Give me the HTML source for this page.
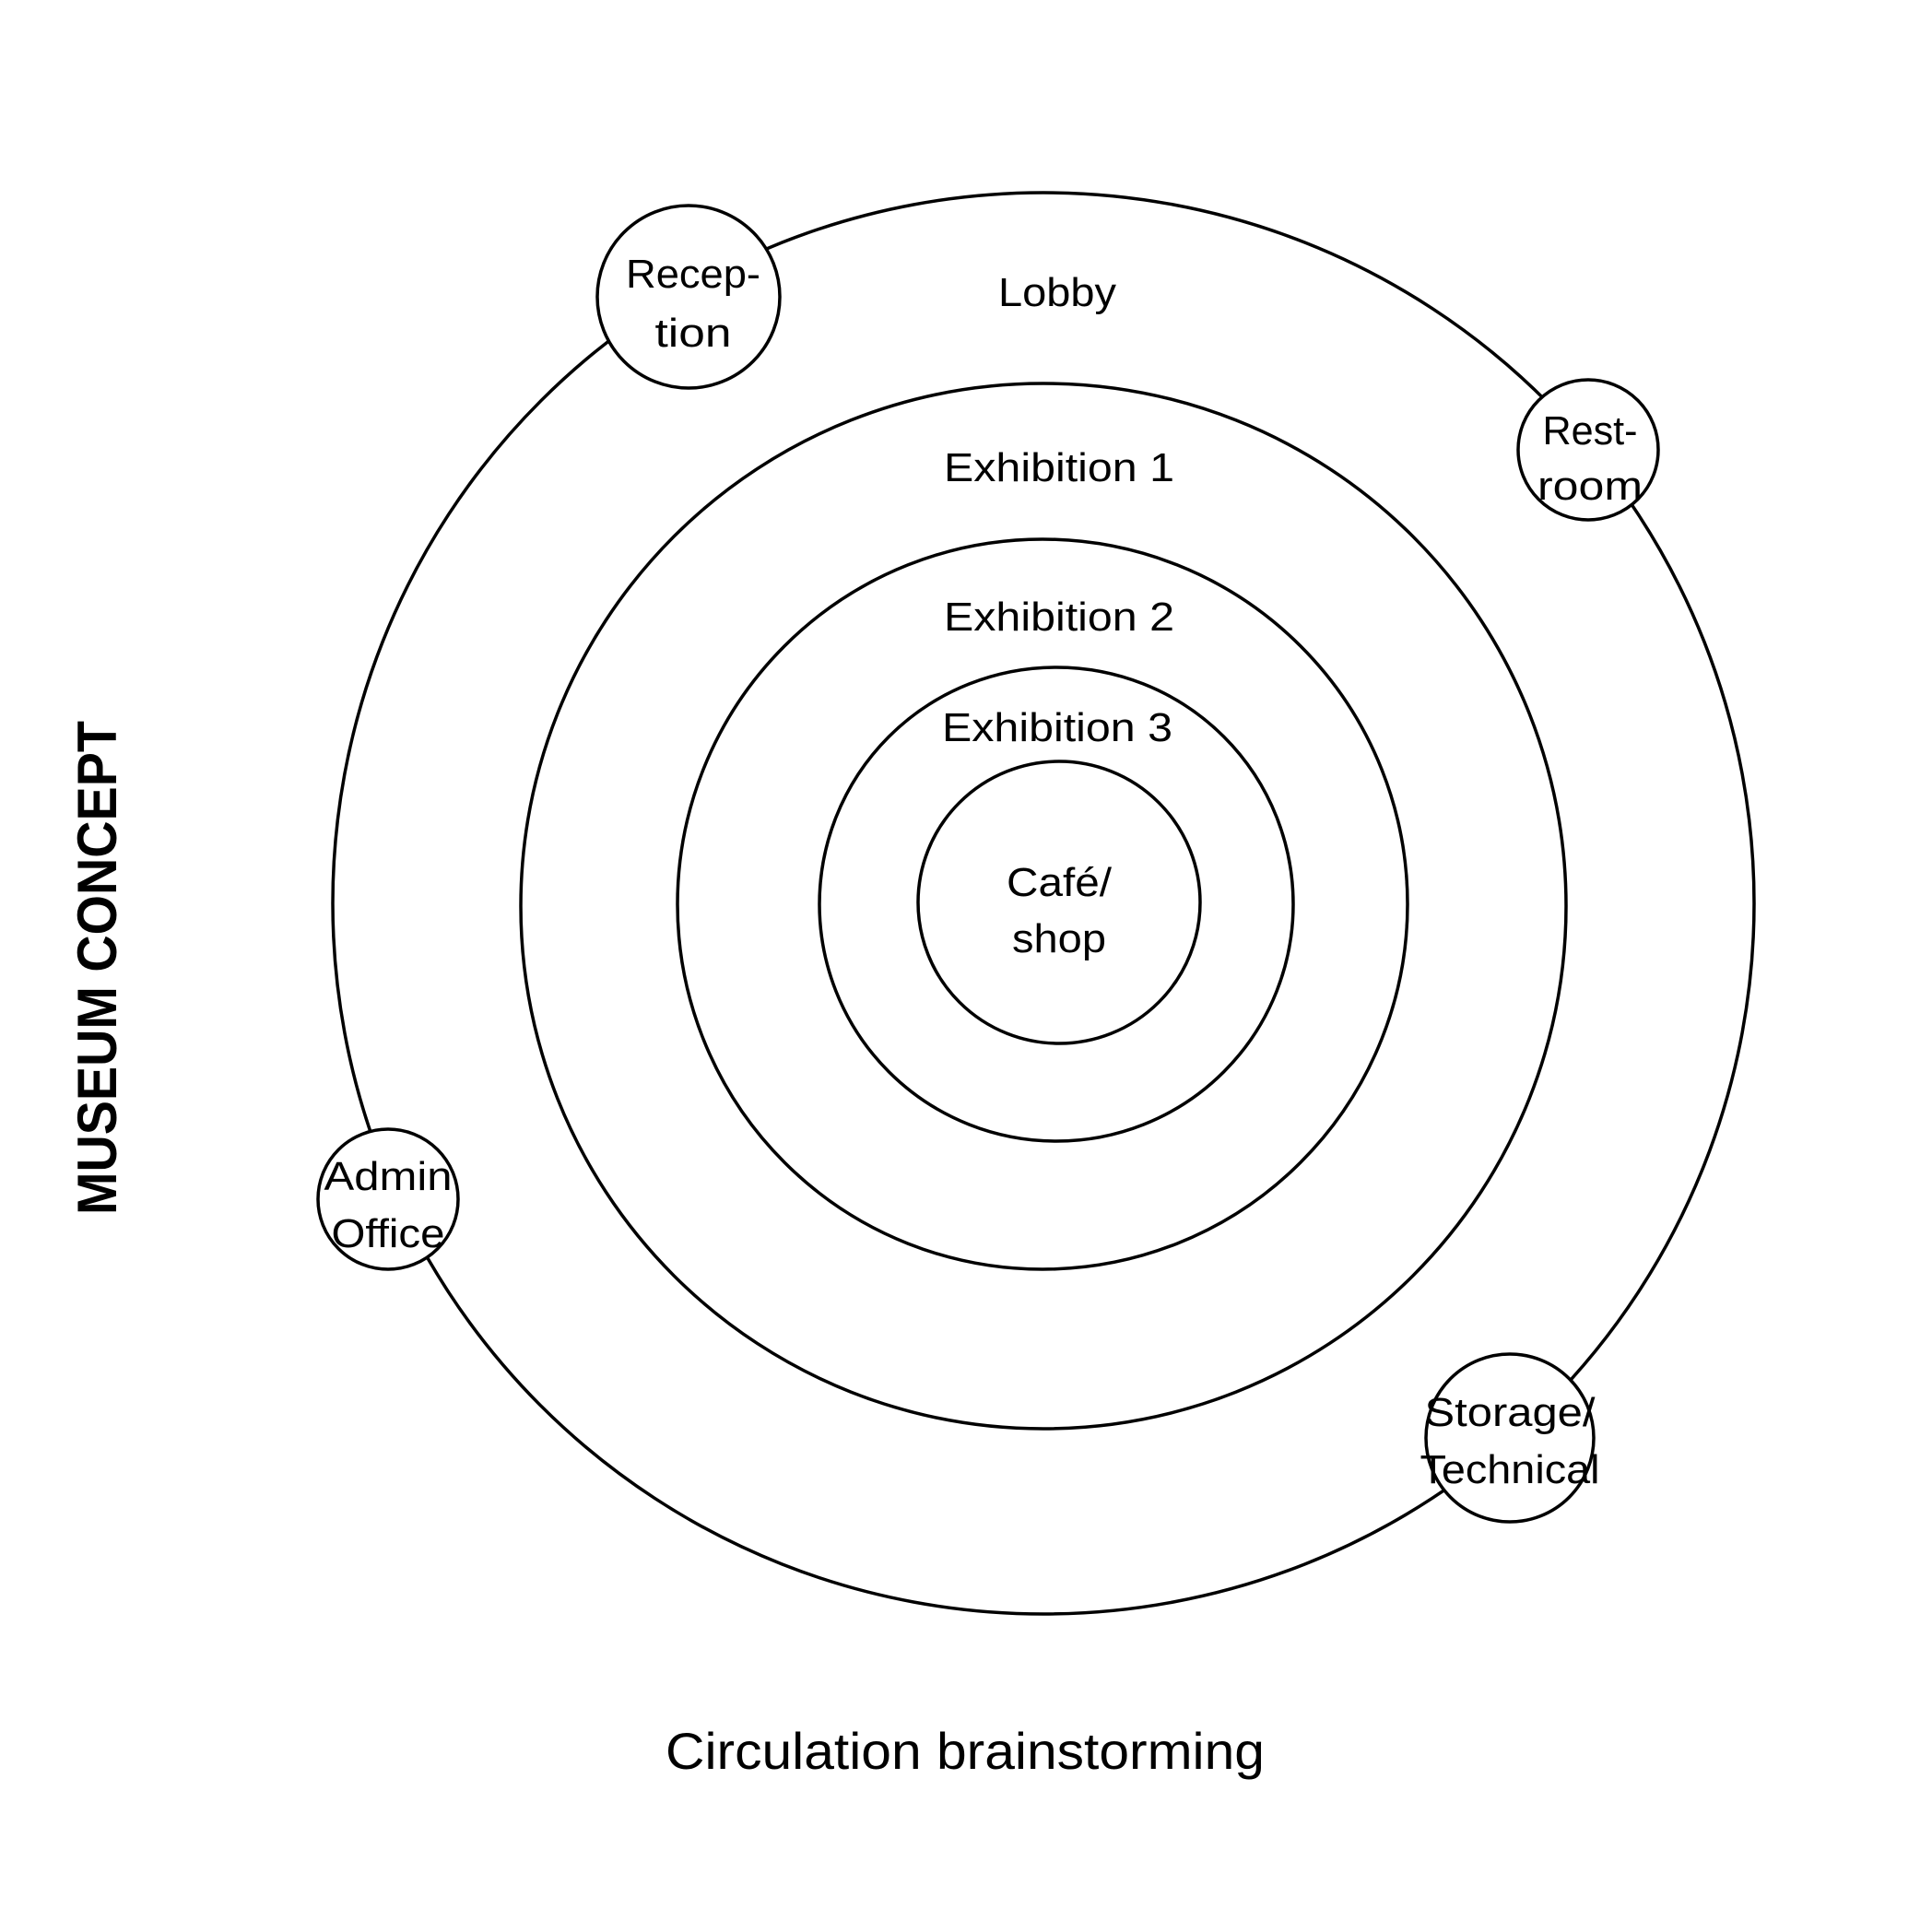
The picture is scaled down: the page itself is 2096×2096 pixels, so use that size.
<!DOCTYPE html>
<html><head><meta charset="utf-8"><style>html,body{margin:0;padding:0;background:#fff}svg{display:block}</style></head>
<body>
<svg width="2096" height="2096" viewBox="0 0 2096 2096" xmlns="http://www.w3.org/2000/svg">
<rect width="2096" height="2096" fill="#fff"/>
<g fill="none" stroke="#000" stroke-width="3.5">
<circle cx="1132" cy="980" r="771"/>
<circle cx="1132" cy="983" r="567"/>
<circle cx="1131" cy="981" r="396"/>
<circle cx="1146" cy="981" r="257"/>
<circle cx="1149" cy="979" r="153"/>
</g>
<g fill="#fff" stroke="#000" stroke-width="3.5">
<circle cx="747" cy="322" r="99"/>
<circle cx="1723" cy="488" r="76"/>
<circle cx="421" cy="1301" r="76"/>
<circle cx="1638" cy="1560" r="91"/>
</g>
<g font-family="'Liberation Sans', sans-serif" font-size="44" fill="#000" text-anchor="middle">
<text x="1147" y="332" textLength="128" lengthAdjust="spacingAndGlyphs">Lobby</text>
<text x="1149" y="522" textLength="250" lengthAdjust="spacingAndGlyphs">Exhibition 1</text>
<text x="1149" y="684" textLength="250" lengthAdjust="spacingAndGlyphs">Exhibition 2</text>
<text x="1147" y="804" textLength="250" lengthAdjust="spacingAndGlyphs">Exhibition 3</text>
<text x="1149" y="972" textLength="114" lengthAdjust="spacingAndGlyphs">Café/</text>
<text x="1149" y="1033" textLength="102" lengthAdjust="spacingAndGlyphs">shop</text>
<text x="752" y="312" textLength="146" lengthAdjust="spacingAndGlyphs">Recep-</text>
<text x="752" y="376" textLength="83" lengthAdjust="spacingAndGlyphs">tion</text>
<text x="1725" y="482" textLength="103" lengthAdjust="spacingAndGlyphs">Rest-</text>
<text x="1725" y="542" textLength="114" lengthAdjust="spacingAndGlyphs">room</text>
<text x="421" y="1291" textLength="139" lengthAdjust="spacingAndGlyphs">Admin</text>
<text x="421" y="1353" textLength="123" lengthAdjust="spacingAndGlyphs">Office</text>
<text x="1638" y="1547" textLength="185" lengthAdjust="spacingAndGlyphs">Storage/</text>
<text x="1638" y="1609" textLength="195" lengthAdjust="spacingAndGlyphs">Technical</text>
</g>
<text x="1047" y="1919" font-family="'Liberation Sans', sans-serif" font-size="56" text-anchor="middle" textLength="650" lengthAdjust="spacingAndGlyphs">Circulation brainstorming</text>
<text transform="translate(126,1050) rotate(-90)" x="0" y="0" font-family="'Liberation Sans', sans-serif" font-weight="bold" font-size="60" text-anchor="middle" textLength="536" lengthAdjust="spacingAndGlyphs">MUSEUM CONCEPT</text>
</svg>
</body></html>
